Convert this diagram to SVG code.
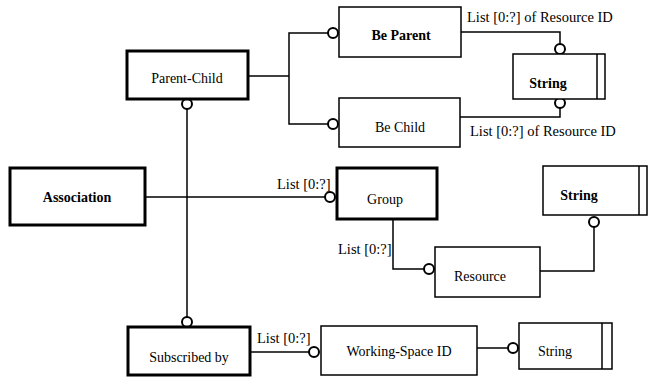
<svg xmlns="http://www.w3.org/2000/svg" width="648" height="377" viewBox="0 0 648 377">
  <defs>
    <!-- attachment ring used at the optional end of each link -->
    <circle id="ring" r="5" fill="#fff" stroke="#000" stroke-width="2"/>
  </defs>

  <g id="connectors" fill="none" stroke="#000" stroke-width="1.5">
    <!-- Parent-Child to Be Parent / Be Child -->
    <polyline points="248,76 289,76"/>
    <polyline points="328,33 289,33 289,124 328,124"/>
    <!-- Be Parent / Be Child to String -->
    <polyline points="461,32 560,32 560,44"/>
    <polyline points="460,117 560,117 560,108"/>
    <!-- Parent-Child to Subscribed by -->
    <line x1="187" y1="109" x2="187" y2="317"/>
    <!-- Association to Group -->
    <line x1="145" y1="197" x2="325" y2="197"/>
    <!-- Group to Resource -->
    <polyline points="393,219 393,269 424,269"/>
    <!-- Resource to String -->
    <polyline points="540,271 594,271 594,227"/>
    <!-- Subscribed by to Working-Space ID -->
    <line x1="250" y1="352" x2="309" y2="352"/>
    <!-- Working-Space ID to String -->
    <line x1="477" y1="348" x2="508" y2="348"/>

    <use href="#ring" x="333" y="33"/>
    <use href="#ring" x="333" y="124"/>
    <use href="#ring" x="560" y="49"/>
    <use href="#ring" x="560" y="103"/>
    <use href="#ring" x="187" y="104"/>
    <use href="#ring" x="187" y="322"/>
    <use href="#ring" x="330" y="197"/>
    <use href="#ring" x="429" y="269"/>
    <use href="#ring" x="594" y="222"/>
    <use href="#ring" x="314" y="352"/>
    <use href="#ring" x="513" y="348"/>

    <g stroke="none" fill="#000" font-family="Liberation Serif" font-size="14.5">
      <text x="467" y="22">List [0:?] of Resource ID</text>
      <text x="470" y="136">List [0:?] of Resource ID</text>
      <text x="277" y="189">List [0:?]</text>
      <text x="338" y="254">List [0:?]</text>
      <text x="257" y="343">List [0:?]</text>
    </g>
  </g>

  <g id="nodes" fill="#fff" stroke="#000" stroke-width="1.5" font-family="Liberation Serif" font-size="14" text-anchor="middle">
    <g id="parent-child">
      <rect x="127" y="51" width="121" height="48" stroke-width="3"/>
      <text x="187" y="83" fill="#000" stroke="none">Parent-Child</text>
    </g>
    <g id="be-parent">
      <rect x="339" y="7" width="122" height="50"/>
      <text x="401" y="40" fill="#000" stroke="none" font-weight="bold">Be Parent</text>
    </g>
    <g id="be-child">
      <rect x="339" y="98" width="121" height="49"/>
      <text x="400" y="132" fill="#000" stroke="none">Be Child</text>
    </g>
    <g id="string-top">
      <rect x="513" y="54" width="92" height="45"/>
      <line x1="597" y1="54" x2="597" y2="99"/>
      <text x="548" y="88" fill="#000" stroke="none" font-weight="bold">String</text>
    </g>
    <g id="association">
      <rect x="10" y="168" width="135" height="57" stroke-width="3"/>
      <text x="77" y="202" fill="#000" stroke="none" font-weight="bold">Association</text>
    </g>
    <g id="group">
      <rect x="337" y="168" width="100" height="51" stroke-width="3"/>
      <text x="385" y="204" fill="#000" stroke="none">Group</text>
    </g>
    <g id="string-middle">
      <rect x="543" y="166" width="104" height="49"/>
      <line x1="639" y1="166" x2="639" y2="215"/>
      <text x="579" y="200" fill="#000" stroke="none" font-weight="bold">String</text>
    </g>
    <g id="resource">
      <rect x="435" y="247" width="105" height="50"/>
      <text x="480" y="281" fill="#000" stroke="none">Resource</text>
    </g>
    <g id="subscribed-by">
      <rect x="128" y="327" width="122" height="48" stroke-width="3"/>
      <text x="189" y="362" fill="#000" stroke="none">Subscribed by</text>
    </g>
    <g id="working-space-id">
      <rect x="321" y="326" width="156" height="49"/>
      <text x="399" y="356" fill="#000" stroke="none">Working-Space ID</text>
    </g>
    <g id="string-bottom">
      <rect x="519" y="323" width="93" height="46"/>
      <line x1="602" y1="323" x2="602" y2="369"/>
      <text x="555" y="356" fill="#000" stroke="none">String</text>
    </g>
  </g>
</svg>
